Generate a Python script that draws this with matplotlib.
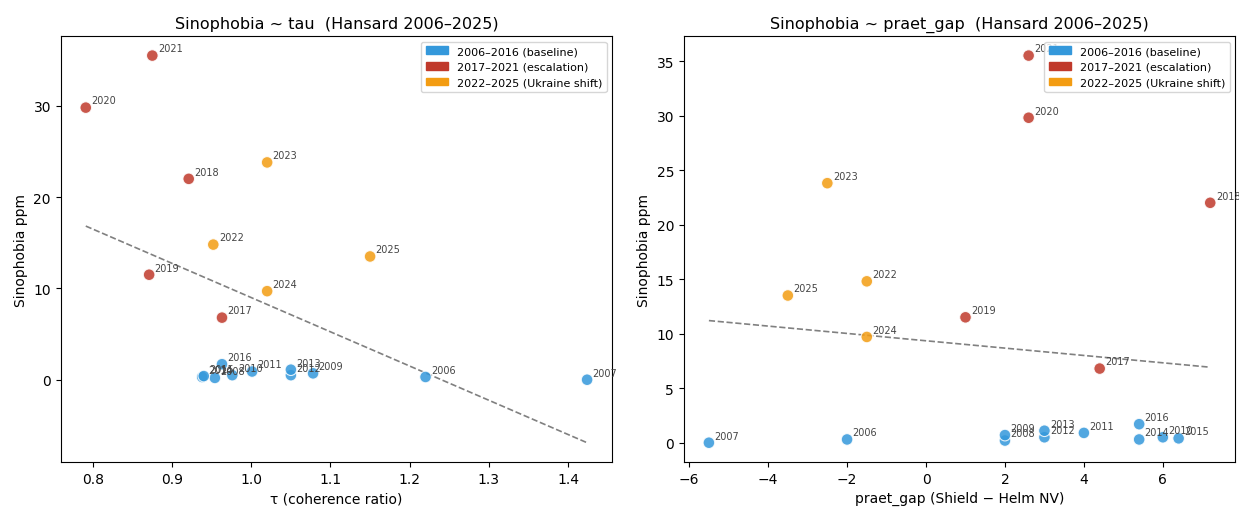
import matplotlib
matplotlib.use("Agg")
import matplotlib.pyplot as plt
from matplotlib.patches import Patch
import numpy as np

# data
years = list(range(2006, 2026))
tau = [1.220, 1.424, 0.954, 1.078, 0.976, 1.001, 1.050, 1.050, 0.938, 0.940,
       0.963, 0.963, 0.921, 0.871, 0.791, 0.875, 0.952, 1.020, 1.020, 1.150]
praet_gap = [-2.0, -5.5, 2.0, 2.0, 6.0, 4.0, 3.0, 3.0, 5.4, 6.4,
             5.4, 4.4, 7.2, 1.0, 2.6, 2.6, -1.5, -2.5, -1.5, -3.5]
sino = [0.3, 0.0, 0.2, 0.7, 0.5, 0.9, 0.5, 1.1, 0.3, 0.4,
        1.7, 6.8, 22.0, 11.5, 29.8, 35.5, 14.8, 23.8, 9.7, 13.5]

periods = ["2006–2016 (baseline)", "2017–2021 (escalation)", "2022–2025 (Ukraine shift)"]
period_colors = ["#3498db", "#c0392b", "#f39c12"]


def period_of(y):
    if y <= 2016:
        return 0
    if y <= 2021:
        return 1
    return 2


colors = [period_colors[period_of(y)] for y in years]

fig, axes = plt.subplots(1, 2, figsize=(12.39, 5.10), dpi=100)
fig.subplots_adjust(left=0.049, right=0.997, top=0.927, bottom=0.092, wspace=0.13)

panels = [
    (tau, "τ (coherence ratio)", "Sinophobia ~ tau  (Hansard 2006–2025)"),
    (praet_gap, "praet_gap (Shield − Helm NV)", "Sinophobia ~ praet_gap  (Hansard 2006–2025)"),
]

for ax, (xv, xlabel, title) in zip(axes, panels):
    x = np.array(xv)
    y = np.array(sino)
    ax.scatter(x, y, c=colors, s=70, alpha=0.85, edgecolors="white", linewidths=0.8, zorder=3)
    for xi, yi, yr in zip(x, y, years):
        ax.annotate(str(yr), (xi, yi), xytext=(4, 3), textcoords="offset points",
                    fontsize=7, color="#444444")
    m, b = np.polyfit(x, y, 1)
    xs = np.array([x.min(), x.max()])
    ax.plot(xs, m * xs + b, "--", color="gray", lw=1.2, zorder=2)
    ax.set_xlabel(xlabel, fontsize=10)
    ax.set_ylabel("Sinophobia ppm", fontsize=10)
    ax.set_title(title, fontsize=11.5)
    handles = [Patch(color=c, label=l) for c, l in zip(period_colors, periods)]
    ax.legend(handles=handles, loc="upper right", fontsize=8)

plt.savefig("out.png", dpi=100)
